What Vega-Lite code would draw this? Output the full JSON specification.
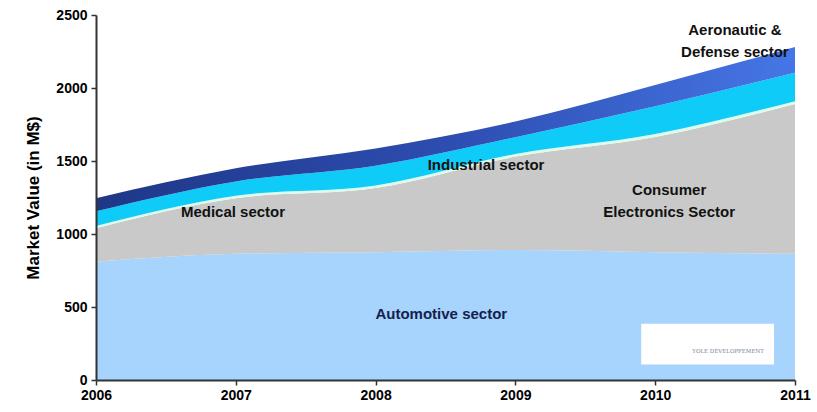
{
  "$schema": "https://vega.github.io/schema/vega-lite/v6.json",
  "width": 699,
  "height": 365,
  "autosize": {"type": "none"},
  "padding": {"left": 96, "top": 15, "right": 22, "bottom": 32},
  "background": "white",
  "config": {"view": {"stroke": null}, "font": "Liberation Sans"},
  "datasets": {
    "market": [
      {"year": 2006, "sector": "Automotive", "order": 1, "value": 810},
      {"year": 2007, "sector": "Automotive", "order": 1, "value": 865},
      {"year": 2008, "sector": "Automotive", "order": 1, "value": 875},
      {"year": 2009, "sector": "Automotive", "order": 1, "value": 890},
      {"year": 2010, "sector": "Automotive", "order": 1, "value": 875},
      {"year": 2011, "sector": "Automotive", "order": 1, "value": 865},
      {"year": 2006, "sector": "Consumer Electronics", "order": 2, "value": 230},
      {"year": 2007, "sector": "Consumer Electronics", "order": 2, "value": 380},
      {"year": 2008, "sector": "Consumer Electronics", "order": 2, "value": 440},
      {"year": 2009, "sector": "Consumer Electronics", "order": 2, "value": 640},
      {"year": 2010, "sector": "Consumer Electronics", "order": 2, "value": 790},
      {"year": 2011, "sector": "Consumer Electronics", "order": 2, "value": 1025},
      {"year": 2006, "sector": "Medical", "order": 3, "value": 15},
      {"year": 2007, "sector": "Medical", "order": 3, "value": 17},
      {"year": 2008, "sector": "Medical", "order": 3, "value": 18},
      {"year": 2009, "sector": "Medical", "order": 3, "value": 18},
      {"year": 2010, "sector": "Medical", "order": 3, "value": 20},
      {"year": 2011, "sector": "Medical", "order": 3, "value": 20},
      {"year": 2006, "sector": "Industrial", "order": 4, "value": 100},
      {"year": 2007, "sector": "Industrial", "order": 4, "value": 98},
      {"year": 2008, "sector": "Industrial", "order": 4, "value": 135},
      {"year": 2009, "sector": "Industrial", "order": 4, "value": 115},
      {"year": 2010, "sector": "Industrial", "order": 4, "value": 190},
      {"year": 2011, "sector": "Industrial", "order": 4, "value": 195},
      {"year": 2006, "sector": "Aeronautic & Defense", "order": 5, "value": 90},
      {"year": 2007, "sector": "Aeronautic & Defense", "order": 5, "value": 90},
      {"year": 2008, "sector": "Aeronautic & Defense", "order": 5, "value": 117},
      {"year": 2009, "sector": "Aeronautic & Defense", "order": 5, "value": 107},
      {"year": 2010, "sector": "Aeronautic & Defense", "order": 5, "value": 145},
      {"year": 2011, "sector": "Aeronautic & Defense", "order": 5, "value": 175}
    ],
    "labels": [
      {"x": 2006.98, "y": 1152, "label": "Medical sector", "kind": "dark"},
      {"x": 2008.79, "y": 1474, "label": "Industrial sector", "kind": "dark"},
      {"x": 2010.1, "y": 1303, "label": "Consumer", "kind": "dark"},
      {"x": 2010.1, "y": 1152, "label": "Electronics Sector", "kind": "dark"},
      {"x": 2010.57, "y": 2400, "label": "Aeronautic &", "kind": "dark"},
      {"x": 2010.57, "y": 2249, "label": "Defense sector", "kind": "dark"},
      {"x": 2008.47, "y": 455, "label": "Automotive sector", "kind": "navy"}
    ],
    "logo": [
      {"x0": 2009.9, "x1": 2010.85, "y0": 106, "y1": 386, "name": "YOLE DÉVELOPPEMENT", "xt": 2010.45, "yt": 200}
    ]
  },
  "layer": [
    {
      "data": {"name": "market"},
      "transform": [
        {"stack": "value", "groupby": ["year"], "sort": [{"field": "order"}], "as": ["y0", "y1"]},
        {"filter": "datum.sector === 'Automotive'"}
      ],
      "mark": {"type": "area", "color": "#A7D4FC", "interpolate": "monotone"},
      "encoding": {
        "x": {"field": "year", "type": "quantitative", "scale": {"domain": [2006, 2011], "nice": false, "zero": false},
          "axis": {"values": [2006, 2007, 2008, 2009, 2010, 2011], "format": "d", "title": null, "grid": false,
            "labelFont": "Liberation Sans", "labelFontWeight": "bold", "labelFontSize": 14, "labelColor": "#000",
            "domainColor": "#333", "domainWidth": 2, "tickColor": "#333", "tickWidth": 1.5, "tickSize": 5, "labelPadding": 3, "zindex": 1, "labelFlush": false}},
        "y": {"field": "y1", "type": "quantitative", "scale": {"domain": [0, 2500], "nice": false},
          "axis": {"values": [0, 500, 1000, 1500, 2000, 2500], "format": "d", "title": "Market Value (in M$)", "grid": false,
            "labelFont": "Liberation Sans", "labelFontWeight": "bold", "labelFontSize": 14, "labelColor": "#000",
            "titleFont": "Liberation Sans", "titleFontWeight": "bold", "titleFontSize": 17, "titleColor": "#000", "titlePadding": 13,
            "domainColor": "#333", "domainWidth": 2, "tickColor": "#333", "tickWidth": 1.5, "tickSize": 5, "labelPadding": 4, "zindex": 1}},
        "y2": {"field": "y0"}
      }
    },
    {
      "data": {"name": "market"},
      "transform": [
        {"stack": "value", "groupby": ["year"], "sort": [{"field": "order"}], "as": ["y0", "y1"]},
        {"filter": "datum.sector === 'Consumer Electronics'"}
      ],
      "mark": {"type": "area", "color": "#C9C9C9", "interpolate": "monotone"},
      "encoding": {
        "x": {"field": "year", "type": "quantitative"},
        "y": {"field": "y1", "type": "quantitative"},
        "y2": {"field": "y0"}
      }
    },
    {
      "data": {"name": "market"},
      "transform": [
        {"stack": "value", "groupby": ["year"], "sort": [{"field": "order"}], "as": ["y0", "y1"]},
        {"filter": "datum.sector === 'Medical'"}
      ],
      "mark": {"type": "area", "color": "#DDFBEA", "interpolate": "monotone"},
      "encoding": {
        "x": {"field": "year", "type": "quantitative"},
        "y": {"field": "y1", "type": "quantitative"},
        "y2": {"field": "y0"}
      }
    },
    {
      "data": {"name": "market"},
      "transform": [
        {"stack": "value", "groupby": ["year"], "sort": [{"field": "order"}], "as": ["y0", "y1"]},
        {"filter": "datum.sector === 'Industrial'"}
      ],
      "mark": {"type": "area", "color": "#0FCBF7", "interpolate": "monotone"},
      "encoding": {
        "x": {"field": "year", "type": "quantitative"},
        "y": {"field": "y1", "type": "quantitative"},
        "y2": {"field": "y0"}
      }
    },
    {
      "data": {"name": "market"},
      "transform": [
        {"stack": "value", "groupby": ["year"], "sort": [{"field": "order"}], "as": ["y0", "y1"]},
        {"filter": "datum.sector === 'Aeronautic & Defense'"}
      ],
      "mark": {"type": "area", "interpolate": "monotone", "color": {"gradient": "linear", "x1": 0, "y1": 0, "x2": 1, "y2": 0,
        "stops": [{"offset": 0, "color": "#1E3787"}, {"offset": 0.5, "color": "#2D4DB0"}, {"offset": 1, "color": "#4676E6"}]}},
      "encoding": {
        "x": {"field": "year", "type": "quantitative"},
        "y": {"field": "y1", "type": "quantitative"},
        "y2": {"field": "y0"}
      }
    },
    {
      "data": {"name": "logo"},
      "mark": {"type": "rect", "color": "white"},
      "encoding": {
        "x": {"field": "x0", "type": "quantitative"},
        "x2": {"field": "x1"},
        "y": {"field": "y0", "type": "quantitative"},
        "y2": {"field": "y1"}
      }
    },
    {
      "data": {"name": "logo"},
      "mark": {"type": "text", "font": "DejaVu Serif", "fontSize": 5.5, "color": "#7a7f95", "dx": 10},
      "encoding": {
        "x": {"field": "xt", "type": "quantitative"},
        "y": {"field": "yt", "type": "quantitative"},
        "text": {"field": "name"}
      }
    },
    {
      "data": {"name": "labels"},
      "transform": [{"filter": "datum.kind === 'dark'"}],
      "mark": {"type": "text", "font": "Liberation Sans", "fontWeight": "bold", "fontSize": 15, "color": "#111"},
      "encoding": {
        "x": {"field": "x", "type": "quantitative"},
        "y": {"field": "y", "type": "quantitative"},
        "text": {"field": "label"}
      }
    },
    {
      "data": {"name": "labels"},
      "transform": [{"filter": "datum.kind === 'navy'"}],
      "mark": {"type": "text", "font": "Liberation Sans", "fontWeight": "bold", "fontSize": 15, "color": "#14214F"},
      "encoding": {
        "x": {"field": "x", "type": "quantitative"},
        "y": {"field": "y", "type": "quantitative"},
        "text": {"field": "label"}
      }
    }
  ]
}
